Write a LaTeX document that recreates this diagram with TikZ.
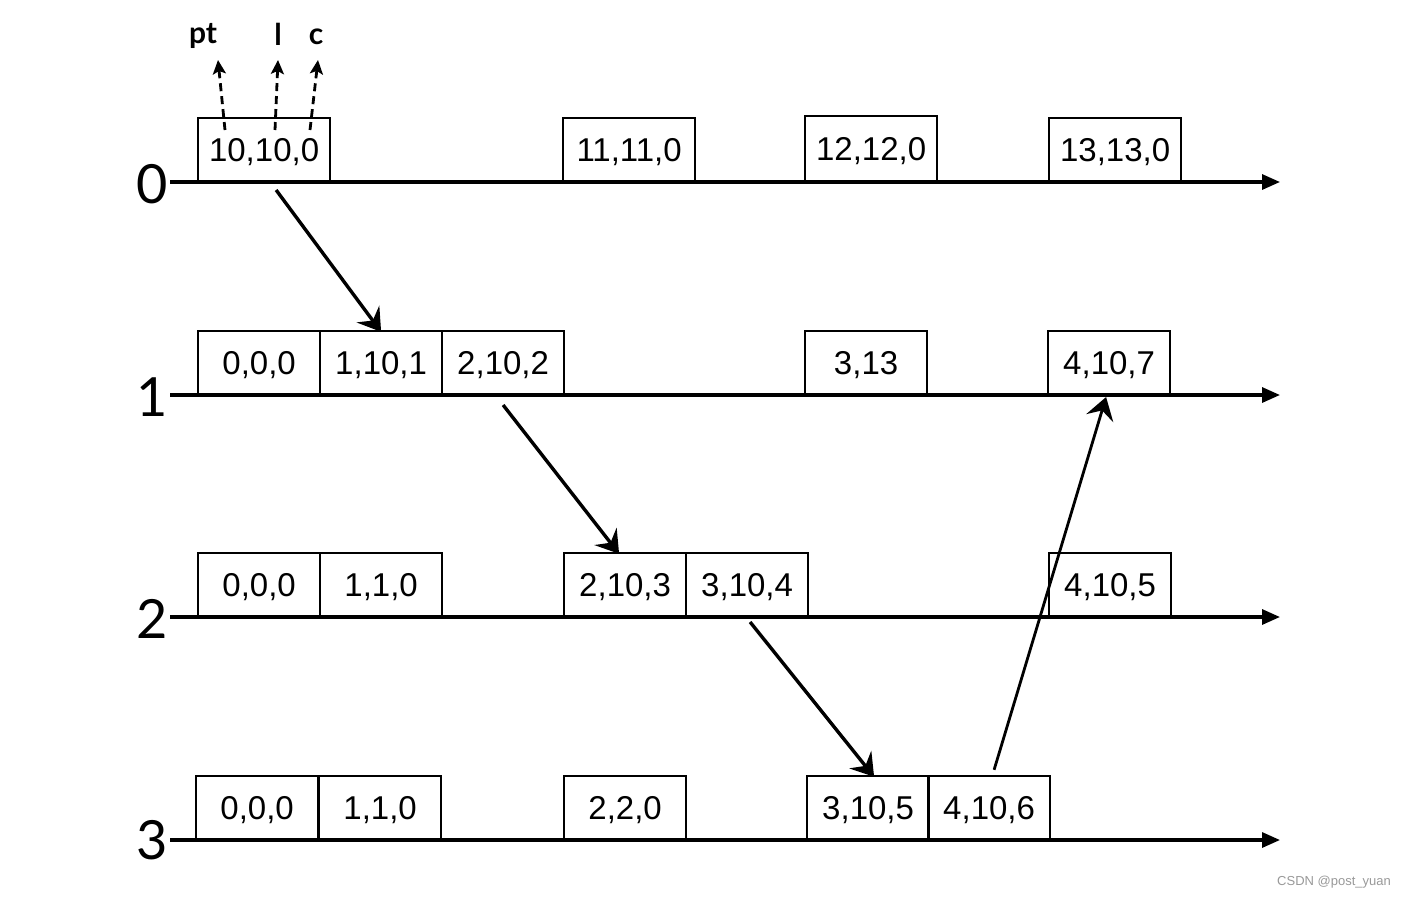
\documentclass[tikz,border=0pt]{standalone}
\usepackage{fontspec}
\setmainfont{Liberation Sans}
\newfontfamily\lato{Lato}
\usetikzlibrary{arrows.meta,calc}
\begin{document}
\begin{tikzpicture}[x=1pt,y=-1pt,
  box/.style={draw,line width=2.2pt,minimum width=122pt,minimum height=63pt,inner sep=0pt,text height=23.6pt,text depth=0pt,anchor=south west,font=\fontsize{33}{33}\selectfont},
  wbox/.style={box,minimum width=132pt},
  axis/.style={line width=3.2pt,-{Triangle[length=18pt,width=15pt]}},
  msg/.style={line width=3.4pt,-{Stealth[length=22pt,width=28pt,inset=8pt]}},
  lbl/.style={anchor=east,inner sep=2pt,font=\lato\fontsize{54}{54}\selectfont},
  fld/.style={inner sep=0pt,font=\lato\bfseries\fontsize{30}{30}\selectfont},
  dsh/.style={line width=2.8pt,dash pattern=on 8pt off 5pt,-{Stealth[length=14pt,width=13pt,inset=3pt]}}]
\useasboundingbox[fill=white] (0,0) rectangle (1410,899);

% process labels and axes
\node[lbl] (t0) at (170,184) {0};
\node[lbl] (t1) at (170,397) {1};
\node[lbl] (t2) at (170,619) {2};
\node[lbl] (t3) at (170,840) {3};
\coordinate (e0) at (1280,182);
\coordinate (e1) at (1280,395);
\coordinate (e2) at (1280,617);
\coordinate (e3) at (1280,840);
\draw[axis] (t0.east |- e0) -- (e0);
\draw[axis] (t1.east |- e1) -- (e1);
\draw[axis] (t2.east |- e2) -- (e2);
\draw[axis] (t3.east |- e3) -- (e3);

% row 0
\node[wbox] (b00) at (197,182) {10,10,0};
\node[wbox] (b01) at (562,182) {11,11,0};
\node[wbox,minimum height=65pt] (b02) at (804,182) {12,12,0};
\node[wbox] (b03) at (1048,182) {13,13,0};
% row 1
\node[box] (b10) at (197,395) {0,0,0};
\node[box] (b11) at (319,395) {1,10,1};
\node[box] (b12) at (441,395) {2,10,2};
\node[box] (b13) at (804,395) {3,13};
\node[box] (b14) at (1047,395) {4,10,7};
% row 2
\node[box] (b20) at (197,617) {0,0,0};
\node[box] (b21) at (319,617) {1,1,0};
\node[box] (b22) at (563,617) {2,10,3};
\node[box] (b23) at (685,617) {3,10,4};
\node[box] (b24) at (1048,617) {4,10,5};
% row 3
\node[box] (b30) at (195,840) {0,0,0};
\node[box] (b31) at (318,840) {1,1,0};
\node[box] (b32) at (563,840) {2,2,0};
\node[box] (b33) at (806,840) {3,10,5};
\node[box] (b34) at (927,840) {4,10,6};

% field labels
\node[fld] (pt) at (203,36) {pt};
\node[fld] (l) at (278,34) {l};
\node[fld] (c) at (316,37) {c};
\coordinate (p1) at (225,130);
\coordinate (p2) at (275,130);
\coordinate (p3) at (310,130);
\coordinate (q1) at (218,60);
\coordinate (q2) at (278,60);
\coordinate (q3) at (318,60);
\draw[dsh] (p1) -- (q1);
\draw[dsh] (p2) -- (q2);
\draw[dsh] (p3) -- (q3);

% messages
\draw[msg] ([xshift=12pt,yshift=-8pt]b00.south) -- ([yshift=-2pt]b11.north);
\draw[msg] ([yshift=-10pt]b12.south) -- ([xshift=-6pt,yshift=-2pt]b22.north);
\draw[msg] ([xshift=3pt,yshift=-5pt]b23.south) -- ([xshift=6pt,yshift=-2pt]b33.north);
\draw[msg,line width=2.8pt] ([xshift=5pt,yshift=5pt]b34.north) -- ([xshift=-3pt,yshift=-2pt]b14.south);

% watermark
\node[text=gray!80,font=\fontsize{13}{13}\selectfont] (wm) at (1334,882) {CSDN @post\_yuan};
\end{tikzpicture}
\end{document}
